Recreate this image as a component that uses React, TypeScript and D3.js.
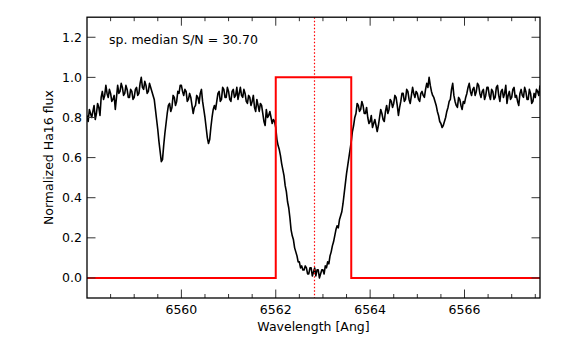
import React from 'react';
import * as d3 from 'd3';

// spectrum sampled every 0.025 Ang from 6558.000
const waveStart = 6558.0;
const waveStep = 0.025;
const flux = [
  0.81, 0.78, 0.84, 0.82, 0.80, 0.83, 0.86, 0.79, 0.82, 0.87, 0.85, 0.81, 0.90, 0.93, 0.89, 0.91, 0.96, 0.92, 0.90, 0.94,
  0.92, 0.88, 0.89, 0.91, 0.84, 0.90, 0.96, 0.92, 0.93, 0.97, 0.95, 0.91, 0.92, 0.96, 0.94, 0.90, 0.90, 0.94, 0.93, 0.89,
  0.90, 0.94, 0.95, 0.91, 0.92, 0.97, 1.00, 0.95, 0.94, 0.98, 0.96, 0.92, 0.93, 0.97, 0.95, 0.93, 0.91, 0.89, 0.84, 0.79,
  0.74, 0.68, 0.63, 0.58, 0.59, 0.66, 0.72, 0.77, 0.82, 0.86, 0.87, 0.83, 0.85, 0.91, 0.90, 0.86, 0.88, 0.93, 0.92, 0.96,
  0.96, 0.93, 0.91, 0.94, 0.93, 0.88, 0.89, 0.92, 0.90, 0.86, 0.82, 0.85, 0.86, 0.91, 0.90, 0.87, 0.92, 0.94, 0.88, 0.84,
  0.80, 0.75, 0.70, 0.67, 0.69, 0.75, 0.80, 0.84, 0.86, 0.84, 0.88, 0.92, 0.93, 0.88, 0.89, 0.95, 0.94, 0.90, 0.90, 0.95,
  0.93, 0.89, 0.88, 0.93, 0.94, 0.90, 0.91, 0.95, 0.89, 0.92, 0.95, 0.91, 0.90, 0.94, 0.92, 0.88, 0.87, 0.91, 0.90, 0.86,
  0.88, 0.91, 0.85, 0.83, 0.89, 0.86, 0.83, 0.87, 0.86, 0.82, 0.78, 0.76, 0.84, 0.80, 0.81, 0.83, 0.80, 0.77, 0.79, 0.78,
  0.75, 0.69, 0.66, 0.64, 0.61, 0.57, 0.54, 0.51, 0.46, 0.43, 0.38, 0.35, 0.30, 0.24, 0.21, 0.19, 0.15, 0.13, 0.11, 0.08,
  0.08, 0.05, 0.06, 0.04, 0.04, 0.06, 0.05, 0.02, 0.02, 0.05, 0.05, 0.01, 0.03, 0.05, 0.01, 0.04, 0.04, 0.00, 0.02, 0.04,
  0.04, 0.02, 0.06, 0.05, 0.08, 0.07, 0.11, 0.13, 0.16, 0.18, 0.21, 0.24, 0.26, 0.25, 0.29, 0.31, 0.33, 0.37, 0.42, 0.47,
  0.52, 0.56, 0.60, 0.64, 0.68, 0.73, 0.76, 0.80, 0.82, 0.87, 0.86, 0.83, 0.84, 0.88, 0.86, 0.82, 0.82, 0.85, 0.80, 0.77,
  0.78, 0.81, 0.75, 0.77, 0.79, 0.76, 0.73, 0.76, 0.80, 0.84, 0.82, 0.79, 0.78, 0.83, 0.86, 0.82, 0.84, 0.89, 0.88, 0.85,
  0.87, 0.91, 0.90, 0.86, 0.81, 0.85, 0.88, 0.92, 0.92, 0.88, 0.89, 0.94, 0.93, 0.89, 0.87, 0.91, 0.95, 0.92, 0.90, 0.93,
  0.92, 0.89, 0.88, 0.92, 0.93, 0.91, 0.90, 0.94, 0.97, 0.95, 1.00, 0.96, 0.93, 0.91, 0.90, 0.88, 0.86, 0.83, 0.81, 0.78,
  0.77, 0.75, 0.76, 0.78, 0.80, 0.83, 0.85, 0.88, 0.89, 0.94, 0.97, 0.91, 0.88, 0.86, 0.85, 0.90, 0.89, 0.86, 0.84, 0.88,
  0.87, 0.90, 0.92, 0.95, 0.97, 0.93, 0.91, 0.94, 0.95, 0.91, 0.93, 0.97, 0.96, 0.92, 0.90, 0.93, 0.94, 0.89, 0.91, 0.95,
  0.95, 0.91, 0.89, 0.94, 0.93, 0.89, 0.90, 0.95, 0.96, 0.91, 0.88, 0.93, 0.94, 0.90, 0.92, 0.96, 0.87, 0.91, 0.93, 0.89,
  0.90, 0.94, 0.95, 0.90, 0.91, 0.88, 0.86, 0.92, 0.94, 0.91, 0.90, 0.95, 0.93, 0.89, 0.89, 0.94, 0.92, 0.87, 0.88, 0.92,
  0.90, 0.94, 0.93, 0.91, 0.96,
];

// Ha16 band-pass (step function)
const bandWaves = [6558.0, 6562.0, 6563.6, 6567.6];
const bandValues = [0, 1, 0, 0];
const lineCenter = 6562.8;

const xMajor = [6560, 6562, 6564, 6566];
const xMinor = [6558.5, 6559, 6559.5, 6560.5, 6561, 6561.5, 6562.5, 6563, 6563.5,
  6564.5, 6565, 6565.5, 6566.5, 6567, 6567.5];
const yMajor = [0.0, 0.2, 0.4, 0.6, 0.8, 1.0, 1.2];

const snText = 'sp. median S/N = 30.70';

const W = 581, H = 339;
const L = 87, R = 540, T = 17.2, B = 298;
const font = 'DejaVu Sans, sans-serif';

export default function App() {
  const x = d3.scaleLinear().domain([6558.0, 6567.6]).range([L, R]);
  const y = d3.scaleLinear().domain([-0.1, 1.3]).range([B, T]);

  const spec = flux.map((f, i) => [waveStart + i * waveStep, f] as [number, number]);
  const specPath = d3.line<[number, number]>().x(d => x(d[0])).y(d => y(d[1]))(spec) || '';

  const band = bandWaves.map((w, i) => [w, bandValues[i]] as [number, number]);
  const bandPath = d3.line<[number, number]>().x(d => x(d[0])).y(d => y(d[1])).curve(d3.curveStepAfter)(band) || '';

  const tickColor = '#333';
  const maj = 8.5, min = 4;
  const xc = Math.round(x(lineCenter)) + 0.5;

  return (
    <svg width={W} height={H} style={{ display: 'block', position: 'absolute', left: 0, top: 0 }}>
      <rect width={W} height={H} fill="white" />
      <defs>
        <clipPath id="plot">
          <rect x={L} y={T} width={R - L} height={B - T} />
        </clipPath>
      </defs>

      <g clipPath="url(#plot)">
        <path d={specPath} fill="none" stroke="black" strokeWidth={1.6} strokeLinejoin="round" />
        <path d={bandPath} fill="none" stroke="#ff0000" strokeWidth={2} />
        <line x1={xc} x2={xc} y1={T} y2={B}
          stroke="#ff0000" strokeWidth={1.2} strokeDasharray="1.5,2" />
      </g>

      {/* ticks, all four sides, pointing in */}
      <g stroke={tickColor} strokeWidth={1}>
        {xMajor.map(v => (
          <g key={'xm' + v}>
            <line x1={x(v)} x2={x(v)} y1={B} y2={B - maj} />
            <line x1={x(v)} x2={x(v)} y1={T} y2={T + maj} />
          </g>
        ))}
        {xMinor.map(v => (
          <g key={'xn' + v}>
            <line x1={x(v)} x2={x(v)} y1={B} y2={B - min} />
            <line x1={x(v)} x2={x(v)} y1={T} y2={T + min} />
          </g>
        ))}
        {yMajor.map(v => (
          <g key={'ym' + v}>
            <line x1={L} x2={L + maj} y1={y(v)} y2={y(v)} />
            <line x1={R} x2={R - maj} y1={y(v)} y2={y(v)} />
          </g>
        ))}
      </g>

      <rect x={L} y={T} width={R - L} height={B - T} fill="none" stroke="black" strokeWidth={1.3} />

      <g fontFamily={font} fontSize={12.5} fill="black">
        {xMajor.map(v => (
          <text key={'xl' + v} x={x(v)} y={B + 16} textAnchor="middle">{v}</text>
        ))}
        {yMajor.map(v => (
          <text key={'yl' + v} x={L - 5} y={y(v) + 4.5} textAnchor="end">{v.toFixed(1)}</text>
        ))}
        <text x={(L + R) / 2} y={331} textAnchor="middle">Wavelength [Ang]</text>
        <text transform={`translate(${53},${(T + B) / 2}) rotate(-90)`} textAnchor="middle">Normalized Ha16 flux</text>
        <text x={109} y={44}>{snText}</text>
      </g>
    </svg>
  );
}
